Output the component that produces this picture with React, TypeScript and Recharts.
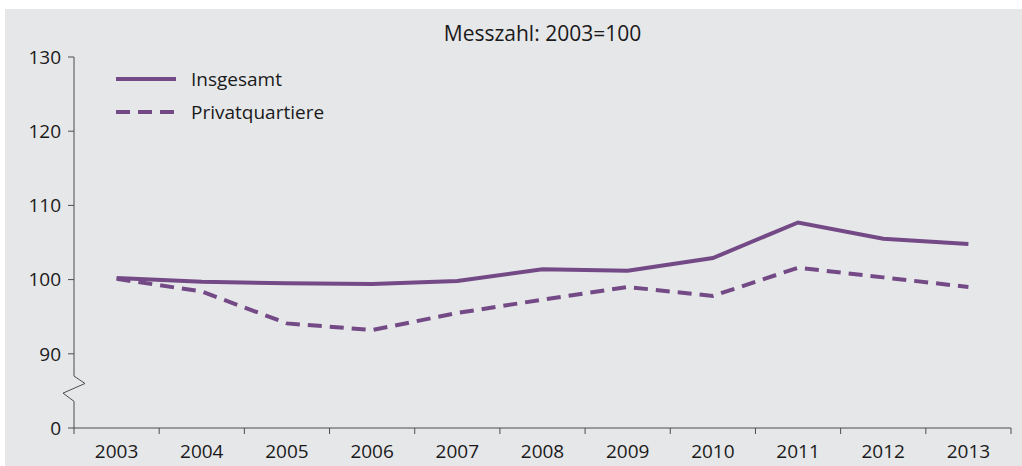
import { LineChart, Line, XAxis, YAxis, Legend, ReferenceLine } from 'recharts';

// values (index, 2003 = 100)
const years = [2003, 2004, 2005, 2006, 2007, 2008, 2009, 2010, 2011, 2012, 2013];
const insgesamt = [100.2, 99.7, 99.5, 99.4, 99.8, 101.4, 101.2, 102.9, 107.7, 105.5, 104.8];
const privatquartiere = [100.1, 98.4, 94.1, 93.2, 95.5, 97.3, 99.0, 97.8, 101.6, 100.3, 99.0];
const seriesNames = ['Insgesamt', 'Privatquartiere'];
// broken axis: the lowest slot stands for 0
const yTicks = [80, 90, 100, 110, 120, 130];
const yTickLabels = ['0', '90', '100', '110', '120', '130'];
const title = 'Messzahl: 2003=100';

const data = years.map((year, i) => ({
  year,
  insgesamt: insgesamt[i],
  privatquartiere: privatquartiere[i],
}));
// tick marks sit between the years
const yearBounds = years.map((y) => y - 0.5).concat(years[years.length - 1] + 0.5);

const W = 1017;
const H = 457;
const MARGIN = { top: 48, right: 11, bottom: 8, left: 0 };
const Y_AXIS_W = 69;
const bandPx = (W - MARGIN.left - MARGIN.right - Y_AXIS_W) / years.length;

const FONT = '"Open Sans", "Noto Sans", sans-serif';
const TEXT = '#1a1a1a';
const AXIS = '#4d4d4d';
const PURPLE = '#744a86';
const BG = '#e6e7e9';
const DASH = '14 8';

// zigzag of the axis break, in axis units
const axisX = yearBounds[0];
const breakDx = 11 / bandPx;
const axisPath = [
  { x: axisX, y: 130 },
  { x: axisX, y: 87 },
  { x: axisX + breakDx, y: 86 },
  { x: axisX - breakDx, y: 84.7 },
  { x: axisX, y: 83.6 },
  { x: axisX, y: 80 },
];

function YearTick(props: any) {
  const { x, y, payload } = props;
  const label = payload.value + 0.5;
  if (label > years[years.length - 1]) return null;
  return (
    <text x={x + bandPx / 2} y={y + 22} textAnchor="middle" fill={TEXT} fontSize={19} fontFamily={FONT}>
      {label}
    </text>
  );
}

function LegendContent(props: any) {
  const { payload = [] } = props;
  return (
    <div style={{ fontFamily: FONT, fontSize: 19, color: TEXT }}>
      {payload.map((entry: any) => (
        <div key={entry.value} style={{ display: 'flex', alignItems: 'center', height: 32.7 }}>
          <svg width={60} height={10} style={{ marginRight: 15 }}>
            <line
              x1={0}
              y1={5}
              x2={60}
              y2={5}
              stroke={entry.color}
              strokeWidth={4}
              strokeDasharray={entry.payload?.strokeDasharray}
            />
          </svg>
          <span>{entry.value}</span>
        </div>
      ))}
    </div>
  );
}

export default function App() {
  return (
    <div style={{ position: 'fixed', left: 0, top: 0, width: 1022, height: 466, background: '#fff' }}>
      <div style={{ position: 'absolute', left: 5, top: 9, width: W, height: H, background: BG }}>
        <div
          style={{
            position: 'absolute',
            left: MARGIN.left + Y_AXIS_W,
            width: W - MARGIN.left - MARGIN.right - Y_AXIS_W,
            top: 10,
            textAlign: 'center',
            fontFamily: FONT,
            fontSize: 21,
            color: TEXT,
            lineHeight: '28px',
          }}
        >
          {title}
        </div>
        <LineChart width={W} height={H} data={data} margin={MARGIN}>
          <XAxis
            dataKey="year"
            type="number"
            domain={[yearBounds[0], yearBounds[yearBounds.length - 1]]}
            ticks={yearBounds}
            interval={0}
            tick={<YearTick />}
            tickSize={6}
            tickMargin={2}
            height={30}
            stroke={AXIS}
            allowDataOverflow
          />
          <YAxis
            type="number"
            domain={[yTicks[0], yTicks[yTicks.length - 1]]}
            ticks={yTicks}
            interval={0}
            tickFormatter={(v) => yTickLabels[yTicks.indexOf(v)]}
            axisLine={false}
            tickSize={6}
            tickMargin={7}
            width={Y_AXIS_W}
            stroke={AXIS}
            tick={{ fill: TEXT, fontSize: 19, fontFamily: FONT }}
          />
          {axisPath.slice(1).map((p, i) => (
            <ReferenceLine
              key={i}
              segment={[axisPath[i], p]}
              stroke={AXIS}
              strokeWidth={1}
              ifOverflow="visible"
            />
          ))}
          <Legend
            layout="vertical"
            align="center"
            verticalAlign="middle"
            content={<LegendContent />}
            wrapperStyle={{ left: 111, top: 53.6, width: 'auto' }}
          />
          <Line
            type="linear"
            dataKey="insgesamt"
            name={seriesNames[0]}
            stroke={PURPLE}
            strokeWidth={4}
            dot={false}
            isAnimationActive={false}
          />
          <Line
            type="linear"
            dataKey="privatquartiere"
            name={seriesNames[1]}
            stroke={PURPLE}
            strokeWidth={4}
            strokeDasharray={DASH}
            dot={false}
            isAnimationActive={false}
          />
        </LineChart>
      </div>
    </div>
  );
}
